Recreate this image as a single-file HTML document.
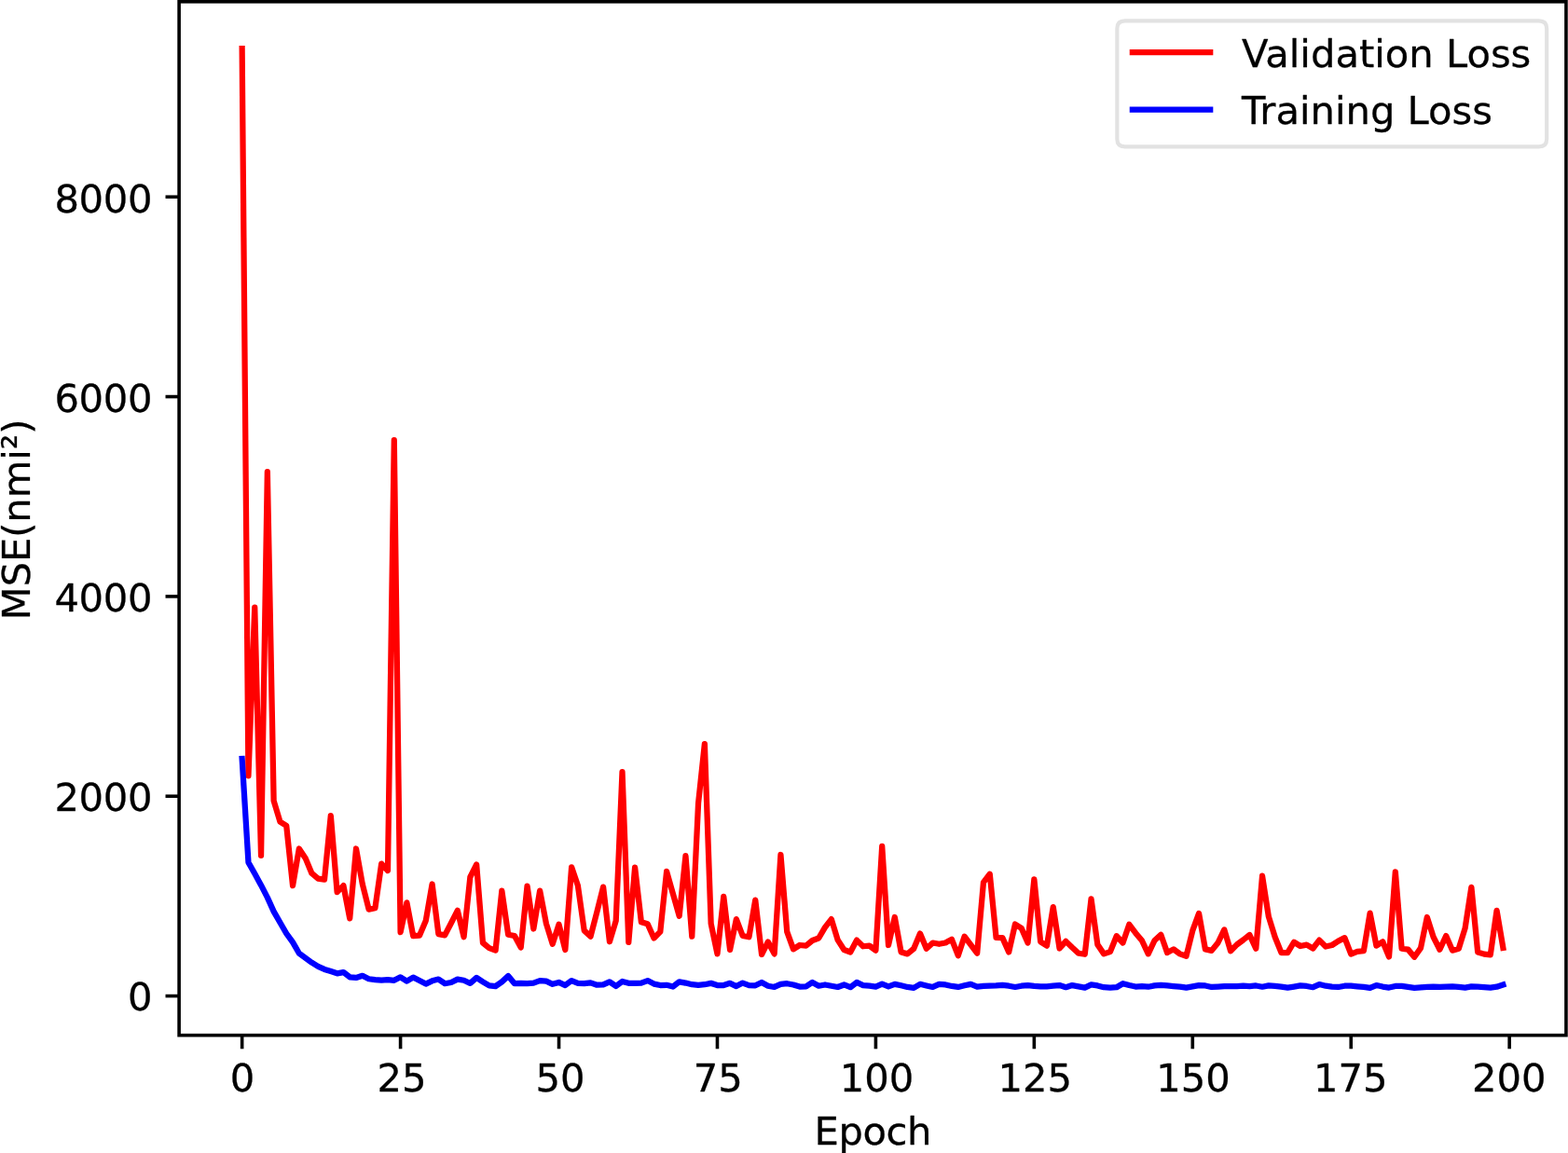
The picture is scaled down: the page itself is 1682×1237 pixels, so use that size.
<!DOCTYPE html>
<html lang="en"><head><meta charset="utf-8"><title>Loss curves</title>
<style>html,body{margin:0;padding:0;background:#fff;overflow:hidden;}svg{display:block;}text{font-family:"DejaVu Sans","Liberation Sans",sans-serif;font-size:41.667px;fill:#000;stroke:#000;stroke-width:0.30px;stroke-linejoin:round;}</style></head><body>
<svg width="1682" height="1237" viewBox="0 0 1682 1237">
<rect x="0" y="0" width="1682" height="1237" fill="#fff"/>
<defs><clipPath id="ax"><rect x="192.1" y="1.8" width="1487.8500000000001" height="1108.9"/></clipPath></defs>
<line x1="259.65" y1="1110.7" x2="259.65" y2="1125.28" stroke="#000" stroke-width="3.6"/>
<text x="260.05" y="1171" text-anchor="middle" letter-spacing="0">0</text>
<line x1="429.59" y1="1110.7" x2="429.59" y2="1125.28" stroke="#000" stroke-width="3.6"/>
<text x="431.09" y="1171" text-anchor="middle" letter-spacing="0">25</text>
<line x1="599.53" y1="1110.7" x2="599.53" y2="1125.28" stroke="#000" stroke-width="3.6"/>
<text x="601.03" y="1171" text-anchor="middle" letter-spacing="0">50</text>
<line x1="769.47" y1="1110.7" x2="769.47" y2="1125.28" stroke="#000" stroke-width="3.6"/>
<text x="770.17" y="1171" text-anchor="middle" letter-spacing="0">75</text>
<line x1="939.41" y1="1110.7" x2="939.41" y2="1125.28" stroke="#000" stroke-width="3.6"/>
<text x="940.56" y="1171" text-anchor="middle" letter-spacing="0">100</text>
<line x1="1109.35" y1="1110.7" x2="1109.35" y2="1125.28" stroke="#000" stroke-width="3.6"/>
<text x="1110.15" y="1171" text-anchor="middle" letter-spacing="0">125</text>
<line x1="1279.29" y1="1110.7" x2="1279.29" y2="1125.28" stroke="#000" stroke-width="3.6"/>
<text x="1279.94" y="1171" text-anchor="middle" letter-spacing="0">150</text>
<line x1="1449.23" y1="1110.7" x2="1449.23" y2="1125.28" stroke="#000" stroke-width="3.6"/>
<text x="1448.88" y="1171" text-anchor="middle" letter-spacing="0">175</text>
<line x1="1619.17" y1="1110.7" x2="1619.17" y2="1125.28" stroke="#000" stroke-width="3.6"/>
<text x="1618.82" y="1171" text-anchor="middle" letter-spacing="0">200</text>
<line x1="192.1" y1="1068.55" x2="177.52" y2="1068.55" stroke="#000" stroke-width="3.6"/>
<text x="163.1" y="1084.25" text-anchor="end" letter-spacing="-0.35">0</text>
<line x1="192.1" y1="854.22" x2="177.52" y2="854.22" stroke="#000" stroke-width="3.6"/>
<text x="163.1" y="870.09" text-anchor="end" letter-spacing="-0.35">2000</text>
<line x1="192.1" y1="639.90" x2="177.52" y2="639.90" stroke="#000" stroke-width="3.6"/>
<text x="163.1" y="655.93" text-anchor="end" letter-spacing="-0.35">4000</text>
<line x1="192.1" y1="425.57" x2="177.52" y2="425.57" stroke="#000" stroke-width="3.6"/>
<text x="163.1" y="441.77" text-anchor="end" letter-spacing="-0.35">6000</text>
<line x1="192.1" y1="211.25" x2="177.52" y2="211.25" stroke="#000" stroke-width="3.6"/>
<text x="163.1" y="227.61" text-anchor="end" letter-spacing="-0.35">8000</text>
<g clip-path="url(#ax)" fill="none" stroke-width="6.25" stroke-linejoin="round" stroke-linecap="square">
<polyline points="259.65,52.14 266.45,832.32 273.25,651.57 280.04,917.99 286.84,506.05 293.64,859.09 300.44,881.58 307.23,885.86 314.03,950.11 320.83,910.49 327.63,920.67 334.42,936.94 341.22,942.62 348.02,943.69 354.82,875.16 361.61,957.07 368.41,950.11 375.21,985.45 382.01,910.49 388.80,948.51 395.60,975.60 402.40,974.21 409.20,926.55 415.99,934.05 422.79,472.21 429.59,1000.12 436.39,968.32 443.19,1004.19 449.98,1003.65 456.78,987.79 463.58,948.46 470.38,1002.14 477.17,1003.39 483.97,990.28 490.77,976.80 497.57,1005.26 504.36,940.97 511.16,927.49 517.96,1011.51 524.76,1017.12 531.55,1019.62 538.35,955.58 545.15,1002.77 551.95,1004.01 558.74,1016.50 565.54,950.58 572.34,996.52 579.14,955.58 585.93,990.91 592.73,1012.75 599.53,991.78 606.33,1019.00 613.13,930.36 619.92,950.33 626.72,998.40 633.52,1004.64 640.32,978.42 647.11,951.58 653.91,1010.26 660.71,987.79 667.51,828.05 674.30,1010.88 681.10,930.61 687.90,989.28 694.70,991.28 701.49,1006.51 708.29,999.65 715.09,934.98 721.89,958.82 728.68,982.79 735.48,918.19 742.28,1004.64 749.08,861.76 755.87,798.09 762.67,990.91 769.47,1023.37 776.27,961.82 783.07,1019.00 789.86,986.16 796.66,1004.01 803.46,1005.26 810.26,965.56 817.05,1023.99 823.85,1010.51 830.65,1023.37 837.45,917.00 844.24,999.65 851.04,1018.37 857.84,1014.00 864.64,1014.63 871.43,1009.01 878.23,1006.51 885.03,994.90 891.83,986.16 898.62,1008.38 905.42,1019.00 912.22,1021.49 919.02,1008.63 925.81,1015.25 932.61,1014.63 939.41,1019.62 946.21,907.89 953.01,1014.00 959.80,984.04 966.60,1021.49 973.40,1023.37 980.20,1017.75 986.99,1001.52 993.79,1017.75 1000.59,1011.51 1007.39,1012.75 1014.18,1011.51 1020.98,1007.76 1027.78,1025.24 1034.58,1004.64 1041.37,1013.63 1048.17,1022.74 1054.97,946.59 1061.77,937.72 1068.56,1005.89 1075.36,1006.14 1082.16,1021.49 1088.96,991.53 1095.75,995.90 1102.55,1011.51 1109.35,943.34 1116.15,1010.26 1122.95,1014.63 1129.74,973.05 1136.54,1017.50 1143.34,1009.88 1150.14,1016.50 1156.93,1022.74 1163.73,1023.74 1170.53,964.31 1177.33,1013.38 1184.12,1023.37 1190.92,1021.12 1197.72,1004.26 1204.52,1011.51 1211.31,991.78 1218.11,1000.89 1224.91,1009.01 1231.71,1023.37 1238.50,1009.01 1245.30,1002.77 1252.10,1022.12 1258.90,1018.37 1265.69,1023.37 1272.49,1025.86 1279.29,998.40 1286.09,979.92 1292.89,1018.37 1299.68,1019.87 1306.48,1011.51 1313.28,997.40 1320.08,1020.24 1326.87,1013.38 1333.67,1008.38 1340.47,1003.02 1347.27,1017.75 1354.06,939.72 1360.86,983.42 1367.66,1005.26 1374.46,1022.12 1381.25,1022.12 1388.05,1010.76 1394.85,1015.00 1401.65,1013.63 1408.44,1017.50 1415.24,1008.63 1422.04,1015.50 1428.84,1014.00 1435.63,1009.63 1442.43,1006.14 1449.23,1023.62 1456.03,1020.87 1462.83,1020.24 1469.62,979.55 1476.42,1014.63 1483.22,1010.26 1490.02,1026.49 1496.81,935.35 1503.61,1017.75 1510.41,1018.62 1517.21,1026.74 1524.00,1017.12 1530.80,984.04 1537.60,1005.26 1544.40,1018.75 1551.19,1004.01 1557.99,1019.62 1564.79,1017.75 1571.59,995.90 1578.38,951.83 1585.18,1021.49 1591.98,1023.62 1598.78,1024.36 1605.57,976.80 1612.37,1016.87" stroke="#ff0000"/>
<polyline points="259.65,814.01 266.45,925.16 273.25,937.26 280.04,949.68 286.84,962.85 293.64,977.85 300.44,989.73 307.23,1001.51 314.03,1010.93 320.83,1022.71 327.63,1027.75 334.42,1032.67 341.22,1036.85 348.02,1039.95 354.82,1042.09 361.61,1044.34 368.41,1043.06 375.21,1048.30 382.01,1048.95 388.80,1046.81 395.60,1050.23 402.40,1051.09 409.20,1051.73 415.99,1051.09 422.79,1051.84 429.59,1048.30 436.39,1052.69 443.19,1048.58 449.98,1052.08 456.78,1055.58 463.58,1052.33 470.38,1050.58 477.17,1055.20 483.97,1053.95 490.77,1050.58 497.57,1051.71 504.36,1054.95 511.16,1048.96 517.96,1053.33 524.76,1057.45 531.55,1058.07 538.35,1053.33 545.15,1047.09 551.95,1055.20 558.74,1054.83 565.54,1055.20 572.34,1054.58 579.14,1052.08 585.93,1052.70 592.73,1055.83 599.53,1053.95 606.33,1057.07 613.13,1052.08 619.92,1054.83 626.72,1055.20 633.52,1054.33 640.32,1056.70 647.11,1056.45 653.91,1053.33 660.71,1057.95 667.51,1052.95 674.30,1054.83 681.10,1054.95 687.90,1054.58 694.70,1052.08 701.49,1055.58 708.29,1057.07 715.09,1056.82 721.89,1058.57 728.68,1053.33 735.48,1054.58 742.28,1056.20 749.08,1056.82 755.87,1056.20 762.67,1054.83 769.47,1057.07 776.27,1057.07 783.07,1054.83 789.86,1058.07 796.66,1054.58 803.46,1057.07 810.26,1057.32 817.05,1053.95 823.85,1057.70 830.65,1058.95 837.45,1055.83 844.24,1055.20 851.04,1056.45 857.84,1058.57 864.64,1058.32 871.43,1053.95 878.23,1057.70 885.03,1056.45 891.83,1057.70 898.62,1058.95 905.42,1056.45 912.22,1059.20 919.02,1053.95 925.81,1057.07 932.61,1057.70 939.41,1058.57 946.21,1055.58 953.01,1058.32 959.80,1055.83 966.60,1057.32 973.40,1058.95 980.20,1059.82 986.99,1055.83 993.79,1057.45 1000.59,1058.95 1007.39,1055.83 1014.18,1056.45 1020.98,1057.95 1027.78,1058.95 1034.58,1057.32 1041.37,1055.83 1048.17,1058.70 1054.97,1057.95 1061.77,1057.70 1068.56,1057.45 1075.36,1056.82 1082.16,1057.70 1088.96,1058.95 1095.75,1057.70 1102.55,1057.07 1109.35,1057.95 1116.15,1058.32 1122.95,1058.32 1129.74,1057.70 1136.54,1057.07 1143.34,1059.20 1150.14,1057.07 1156.93,1058.32 1163.73,1059.57 1170.53,1056.45 1177.33,1057.45 1184.12,1059.20 1190.92,1059.57 1197.72,1059.20 1204.52,1055.20 1211.31,1057.07 1218.11,1058.57 1224.91,1058.07 1231.71,1058.70 1238.50,1057.32 1245.30,1056.82 1252.10,1057.45 1258.90,1058.07 1265.69,1058.70 1272.49,1059.57 1279.29,1058.32 1286.09,1057.07 1292.89,1057.45 1299.68,1058.95 1306.48,1058.57 1313.28,1058.07 1320.08,1058.07 1326.87,1058.07 1333.67,1057.70 1340.47,1058.07 1347.27,1057.45 1354.06,1058.70 1360.86,1057.32 1367.66,1057.95 1374.46,1058.57 1381.25,1059.57 1388.05,1058.57 1394.85,1057.45 1401.65,1057.95 1408.44,1059.20 1415.24,1056.07 1422.04,1057.70 1428.84,1058.57 1435.63,1058.95 1442.43,1057.70 1449.23,1057.70 1456.03,1058.32 1462.83,1058.95 1469.62,1059.95 1476.42,1057.07 1483.22,1058.57 1490.02,1059.57 1496.81,1057.95 1503.61,1057.95 1510.41,1058.95 1517.21,1059.82 1524.00,1059.32 1530.80,1058.95 1537.60,1058.70 1544.40,1058.95 1551.19,1058.70 1557.99,1058.32 1564.79,1058.95 1571.59,1059.57 1578.38,1058.32 1585.18,1058.70 1591.98,1059.20 1598.78,1059.57 1605.57,1058.70 1612.37,1056.45" stroke="#0000ff"/>
</g>
<rect x="192.1" y="1.8" width="1487.8500000000001" height="1108.9" fill="none" stroke="#000" stroke-width="3.6" stroke-linejoin="miter"/>
<text x="936.25" y="1228" text-anchor="middle" letter-spacing="-0.4">Epoch</text>
<text transform="translate(31.7,557.4) rotate(-90)" text-anchor="middle" letter-spacing="-0.1">MSE(nmi²)</text>
<path d="M1206.67,22.43 L1650.84,22.43 Q1659.17,22.43 1659.17,30.76 L1659.17,148.97 Q1659.17,157.30 1650.84,157.30 L1206.67,157.30 Q1198.34,157.30 1198.34,148.97 L1198.34,30.76 Q1198.34,22.43 1206.67,22.43 Z" fill="#fff" fill-opacity="0.8" stroke="#e2e2e2" stroke-width="4.17"/>
<line x1="1214.85" y1="56.2" x2="1298.2" y2="56.2" stroke="#ff0000" stroke-width="6.25" stroke-linecap="square"/>
<line x1="1214.85" y1="117.5" x2="1298.2" y2="117.5" stroke="#0000ff" stroke-width="6.25" stroke-linecap="square"/>
<text x="1332" y="71.5">Validation Loss</text>
<text x="1332" y="132.5">Training Loss</text>
</svg></body></html>
